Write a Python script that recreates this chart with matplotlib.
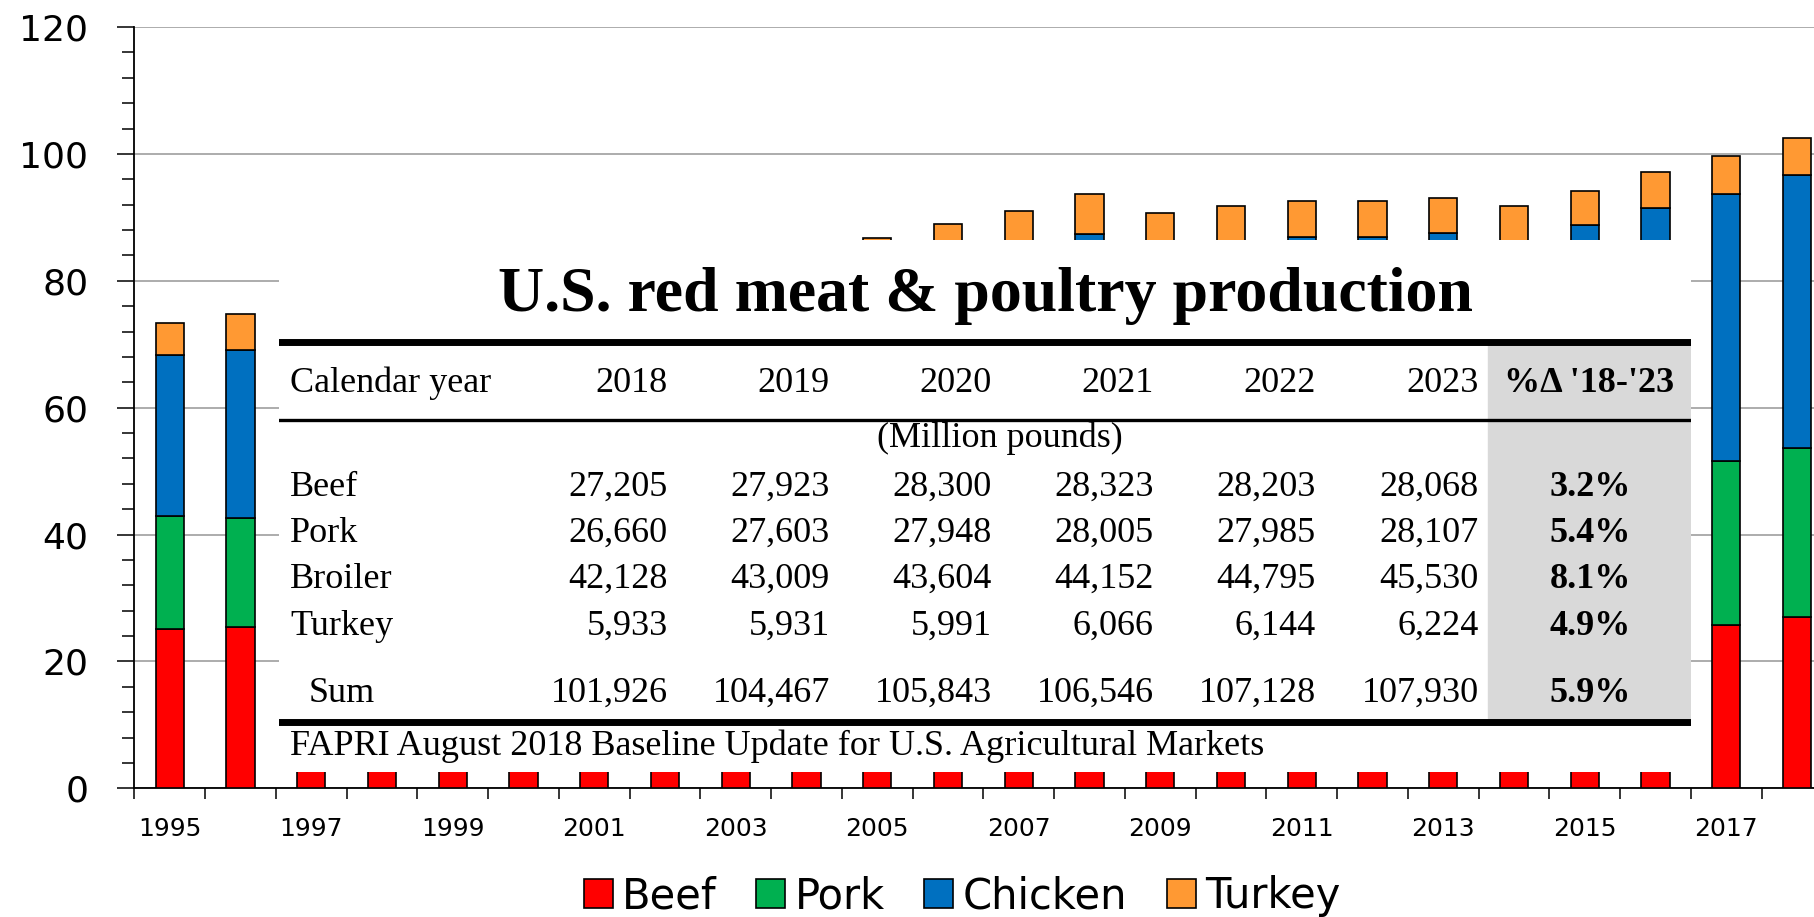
import matplotlib.pyplot as plt
import numpy as np
from matplotlib.patches import Rectangle

# stacked production, billion pounds
years = list(range(1995, 2019))
beef = [25.1, 25.4, 25.5, 25.8, 26.4, 26.8, 26.1, 27.1, 26.3, 24.5, 24.7, 26.2,
        26.5, 26.6, 26.1, 26.4, 26.3, 26.0, 25.8, 24.3, 23.7, 25.3, 25.8, 27.0]
pork = [17.8, 17.2, 17.3, 19.0, 19.3, 18.9, 19.1, 19.7, 19.9, 20.5, 20.7, 21.1,
        21.9, 23.4, 23.0, 22.5, 22.8, 23.3, 23.2, 22.9, 24.6, 25.1, 25.8, 26.7]
chicken = [25.4, 26.5, 27.3, 27.9, 29.7, 30.5, 31.3, 32.2, 32.7, 34.1, 35.8, 36.0,
           36.9, 37.4, 36.0, 37.0, 37.8, 37.6, 38.5, 38.6, 40.5, 41.1, 42.1, 42.9]
turkey = [5.0, 5.6, 5.4, 5.2, 5.2, 5.3, 5.5, 5.6, 5.6, 5.4, 5.6, 5.7,
          5.7, 6.2, 5.6, 5.9, 5.7, 5.7, 5.6, 6.0, 5.3, 5.6, 5.9, 5.9]

# table overlay
tab_years = ["2018", "2019", "2020", "2021", "2022", "2023"]
tab_rows = ["Beef", "Pork", "Broiler", "Turkey"]
tab_beef = ["27,205", "27,923", "28,300", "28,323", "28,203", "28,068"]
tab_pork = ["26,660", "27,603", "27,948", "28,005", "27,985", "28,107"]
tab_broiler = ["42,128", "43,009", "43,604", "44,152", "44,795", "45,530"]
tab_turkey = ["5,933", "5,931", "5,991", "6,066", "6,144", "6,224"]
tab_sum = ["101,926", "104,467", "105,843", "106,546", "107,128", "107,930"]
tab_pct = ["3.2%", "5.4%", "8.1%", "4.9%"]
sum_pct = "5.9%"

W, H = 1815, 917
fig = plt.figure(figsize=(W / 100, H / 100), dpi=100)
ax = fig.add_axes([134.3 / W, (H - 788.3) / H, 24 * 70.75 / W, 761.3 / H])

x = np.arange(len(years))
colors = ["#FF0000", "#00B050", "#0070C0", "#FF9933"]
names = ["Beef", "Pork", "Chicken", "Turkey"]
bottom = np.zeros(len(years))
handles = []
for vals, c, n in zip([beef, pork, chicken, turkey], colors, names):
    b = ax.bar(x, vals, width=0.4, bottom=bottom, color=c, edgecolor="black",
               linewidth=1.2, label=n, zorder=3)
    handles.append(b)
    bottom += np.array(vals)

ax.set_xlim(-0.5, len(years) - 0.5)
ax.set_ylim(0, 120)
ax.set_yticks(np.arange(0, 121, 20))
ax.set_yticks(np.arange(0, 121, 4), minor=True)
ax.yaxis.grid(True, color="#A6A6A6", linewidth=1.3, zorder=0)
ax.set_axisbelow(True)
ax.tick_params(axis="y", which="major", labelsize=26, length=12, width=1.1, pad=21)
ax.tick_params(axis="y", which="minor", length=9, width=1.1)

ax.set_xticks(np.arange(-0.5, len(years), 1))
ax.set_xticklabels([])
ax.set_xticks(x[::2], minor=True)
ax.set_xticklabels([str(y) for y in years[::2]], minor=True)
ax.tick_params(axis="x", which="major", length=8, width=1.1)
ax.tick_params(axis="x", which="minor", length=0, labelsize=18, pad=21)

for s in ["top", "right"]:
    ax.spines[s].set_visible(False)
for s in ["left", "bottom"]:
    ax.spines[s].set_linewidth(1.3)

fig.legend(handles=handles, labels=names, loc="center", ncol=4, frameon=False,
           bbox_to_anchor=(962 / W, 0.0224), fontsize=30, handlelength=0.7,
           handleheight=0.7, handletextpad=0.22, columnspacing=0.95,
           borderaxespad=0)

# table box drawn in reference pixel coordinates
L, R, T, B = 279, 1690.7, 240.2, 772.4
tb = fig.add_axes([L / W, (H - B) / H, (R - L) / W, (B - T) / H])
tb.set_xlim(L, R)
tb.set_ylim(B, T)
tb.set_facecolor("white")
tb.set_xticks([])
tb.set_yticks([])
for s in tb.spines.values():
    s.set_visible(False)

serif = "Liberation Serif"
fs = 26
tb.add_patch(Rectangle((1487.7, 344), R - 1487.7, 718 - 344, color="#D9D9D9", zorder=1))
tb.axhline(341.5, color="black", linewidth=5, zorder=2)
tb.axhline(420, color="black", linewidth=2.4, zorder=2)
tb.axhline(721.5, color="black", linewidth=5, zorder=2)

tb.text(986, 311, "U.S. red meat & poultry production", family=serif,
        fontsize=46, fontweight="bold", ha="center", va="baseline")
tb.text(290, 392, "Calendar year", family=serif, fontsize=fs, va="baseline")
col_x = [668, 830, 992, 1154, 1316, 1479]
for cx, yr in zip(col_x, tab_years):
    tb.text(cx, 392, yr, family=serif, fontsize=fs, ha="right", va="baseline")
tb.text(1589, 392, "%\u0394 '18-'23", family=serif, fontsize=fs, fontweight="bold",
        ha="center", va="baseline")
tb.text(1000, 447, "(Million pounds)", family=serif, fontsize=fs, ha="center",
        va="baseline")

row_y = [496, 542, 588, 635]
for ry, name, vals, pct in zip(row_y, tab_rows,
                               [tab_beef, tab_pork, tab_broiler, tab_turkey], tab_pct):
    tb.text(290, ry, name, family=serif, fontsize=fs, va="baseline")
    for cx, v in zip(col_x, vals):
        tb.text(cx, ry, v, family=serif, fontsize=fs, ha="right", va="baseline")
    tb.text(1590, ry, pct, family=serif, fontsize=fs, fontweight="bold",
            ha="center", va="baseline")

tb.text(309, 702, "Sum", family=serif, fontsize=fs, va="baseline")
for cx, v in zip(col_x, tab_sum):
    tb.text(cx, 702, v, family=serif, fontsize=fs, ha="right", va="baseline")
tb.text(1590, 702, sum_pct, family=serif, fontsize=fs, fontweight="bold",
        ha="center", va="baseline")

tb.text(290, 755, "FAPRI August 2018 Baseline Update for U.S. Agricultural Markets",
        family=serif, fontsize=fs, va="baseline")

fig.savefig("out.png", dpi=100)
